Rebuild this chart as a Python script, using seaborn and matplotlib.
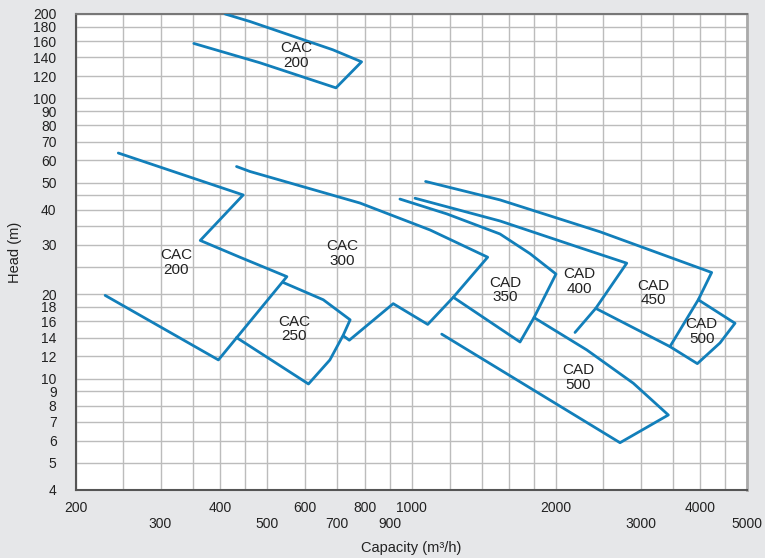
import pandas as pd
import seaborn as sns
import matplotlib.pyplot as plt
from matplotlib.ticker import NullLocator

# pump curve outlines, capacity (m3/h) vs head (m)
cac200_top_q = [409, 461, 686, 787, 696, 483, 352]
cac200_top_h = [200, 188, 149, 135, 109, 134, 157]

cac200_q = [245, 446, 363, 439, 550, 396, 230]
cac200_h = [63.8, 45.2, 31.1, 27.1, 23.1, 11.65, 19.8]

cac250_q = [541, 655, 745, 721, 676, 610, 432]
cac250_h = [22.0, 19.1, 16.2, 14.3, 11.65, 9.56, 14.0]

cac300_q = [432, 461, 781, 1093, 1441, 1222, 1081, 916, 742, 721]
cac300_h = [57.1, 54.8, 42.3, 33.9, 27.1, 19.5, 15.6, 18.5, 13.7, 14.2]

cad350_q = [946, 1184, 1529, 1766, 2000, 1800, 1683, 1222]
cad350_h = [43.7, 38.7, 32.8, 27.9, 23.6, 16.5, 13.5, 19.5]

cad400_q = [1017, 1529, 2244, 2808, 2420, 2191]
cad400_h = [44.0, 36.5, 29.3, 25.8, 17.8, 14.6]

cad450_q = [1070, 1529, 2470, 4220, 3958, 3455, 2420]
cad450_h = [50.5, 43.4, 33.4, 23.9, 19.1, 13.0, 17.8]

cad500s_q = [3958, 4720, 4393, 3940, 3455]
cad500s_h = [19.1, 15.75, 13.4, 11.3, 13.0]

cad500_q = [1800, 2318, 2898, 3428, 2719, 1156]
cad500_h = [16.5, 12.65, 9.62, 7.41, 5.90, 14.4]

labels = ["CAC\n200", "CAC\n200", "CAC\n250", "CAC\n300", "CAD\n350",
          "CAD\n400", "CAD\n450", "CAD\n500", "CAD\n500"]
label_q = [575, 323, 569, 717, 1566, 2234, 3190, 4024, 2226]
label_h = [142, 25.9, 15.0, 27.9, 20.7, 22.2, 20.2, 14.7, 10.1]

x_grid = [200, 250, 300, 350, 400, 450, 500, 600, 700, 800, 900, 1000,
          1200, 1400, 1600, 1800, 2000, 2500, 3000, 3500, 4000, 4500, 5000]
x_upper = [200, 400, 600, 800, 1000, 2000, 4000]
x_lower = [300, 500, 700, 900, 3000, 5000]
y_grid = [4, 5, 6, 7, 8, 9, 10, 12, 14, 16, 18, 20, 25, 30, 35, 40, 45, 50,
          60, 70, 80, 90, 100, 120, 140, 160, 180, 200]
y_hidden = [25, 35, 45]

curves = {
    'cac200_top': (cac200_top_q, cac200_top_h),
    'cac200': (cac200_q, cac200_h),
    'cac250': (cac250_q, cac250_h),
    'cac300': (cac300_q, cac300_h),
    'cad350': (cad350_q, cad350_h),
    'cad400': (cad400_q, cad400_h),
    'cad450': (cad450_q, cad450_h),
    'cad500s': (cad500s_q, cad500s_h),
    'cad500': (cad500_q, cad500_h),
}
rows = []
for name, (qs, hs) in curves.items():
    for i, (q, h) in enumerate(zip(qs, hs)):
        rows.append({'curve': name, 'order': i, 'Capacity': q, 'Head': h})
df = pd.DataFrame(rows)

sns.set_theme(style="white")
plt.rcParams['font.family'] = ['Liberation Sans', 'DejaVu Sans']

fig = plt.figure(figsize=(7.65, 5.58), dpi=100)
fig.patch.set_facecolor('#e6e7e9')
ax = fig.add_axes([76 / 765, 1 - 490 / 558, 671 / 765, 476 / 558])
ax.set_facecolor('white')

sns.lineplot(data=df, x='Capacity', y='Head', units='curve', estimator=None,
             sort=False, color='#127fba', linewidth=2.0, ax=ax, zorder=3)

ax.set_xscale('log')
ax.set_yscale('log')
ax.set_xlim(200, 5000)
ax.set_ylim(4, 200)

ax.set_xticks(x_grid)
xl = []
for v in x_grid:
    if v in x_upper:
        xl.append(str(v))
    elif v in x_lower:
        xl.append('\n' + str(v))
    else:
        xl.append('')
ax.set_xticklabels(xl)
ax.set_yticks(y_grid)
ax.set_yticklabels(['' if v in y_hidden else str(v) for v in y_grid])
ax.xaxis.set_minor_locator(NullLocator())
ax.yaxis.set_minor_locator(NullLocator())

ax.tick_params(axis='x', length=4, width=1, color='#999999', labelsize=10,
               labelcolor='#222222', pad=4)
ax.tick_params(axis='y', length=10, width=1, color='#999999', labelsize=10,
               labelcolor='#222222', pad=4)
for t in ax.get_xticklabels():
    t.set_linespacing(1.2)

ax.grid(True, color='#bcbcbc', linewidth=1.0, zorder=0)
ax.set_axisbelow(True)

for s in ['left', 'bottom']:
    ax.spines[s].set_color('#555555')
    ax.spines[s].set_linewidth(1.5)
ax.spines['top'].set_color('#777777')
ax.spines['top'].set_linewidth(1.5)
ax.spines['right'].set_color('#aaaaaa')
ax.spines['right'].set_linewidth(2)

for txt, q, h in zip(labels, label_q, label_h):
    ax.text(q, h, txt, ha='center', va='center', fontsize=11,
            color='#222222', linespacing=1.05, zorder=4)

ax.set_xlabel('')
ax.set_ylabel('Head (m)', fontsize=10.5, color='#222222', labelpad=8)
fig.text(411.5 / 765, 1 - 548 / 558, 'Capacity (m³/h)', fontsize=10.5,
         color='#222222', ha='center', va='center')

plt.savefig('out.png', dpi=100, facecolor=fig.get_facecolor())
